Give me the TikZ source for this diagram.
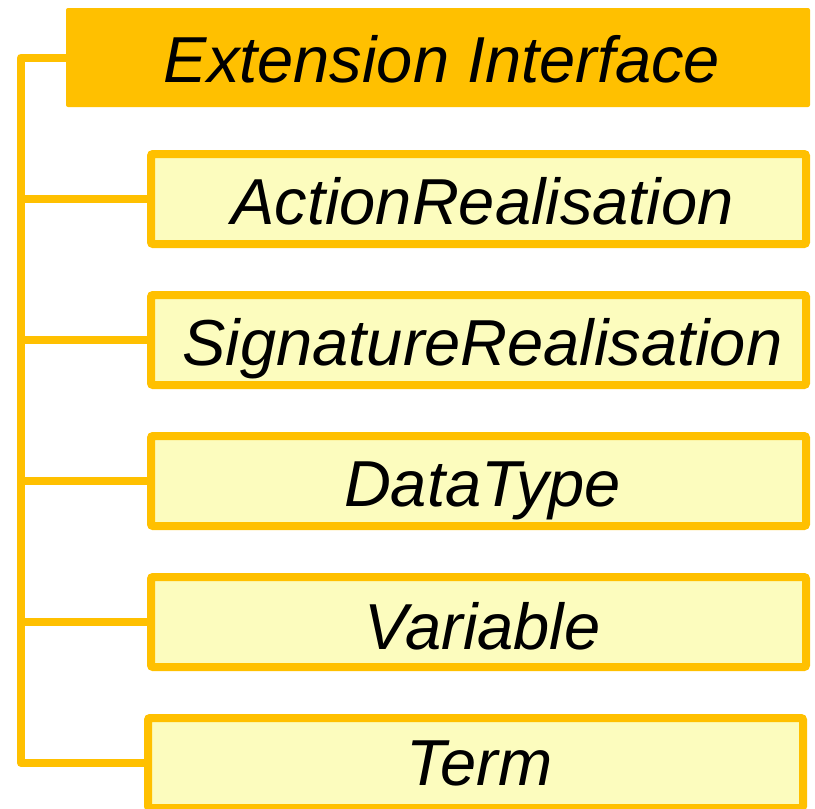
\documentclass[tikz,border=0pt]{standalone}
\usepackage{fontspec}
\setmainfont{Liberation Sans}
\definecolor{gold}{HTML}{FFC000}
\definecolor{paleyellow}{HTML}{FCFCBE}
\begin{document}
\begin{tikzpicture}[x=1pt,y=-1pt,
  boxtext/.style={inner sep=0pt,text height=50pt,text depth=0pt,
    font=\fontsize{65}{78}\selectfont\itshape,
    execute at begin node={\hspace*{8pt}}},
  headbox/.style={boxtext,fill=gold,draw=none,rounded corners=2pt,
    minimum width=744pt,minimum height=99pt},
  itembox/.style={boxtext,fill=paleyellow,draw=gold,line width=8pt,rounded corners=2pt,
    minimum width=655pt,minimum height=90pt},
  conn/.style={draw=gold,line width=8pt,line join=round}]
\useasboundingbox (0,0) rectangle (815,809);
\node[headbox] (head) at (438,57.5) {Extension Interface};
\node[itembox] (b1) at (478.5,199) {ActionRealisation};
\node[itembox] (b2) at (478.5,340) {SignatureRealisation};
\node[itembox] (b3) at (478.5,481) {DataType};
\node[itembox,text height=55pt] (b4) at (478.5,622) {Variable};
\node[itembox,text height=45pt] (b5) at (475.5,763) {Term};
\coordinate (spinetop) at (21,57.5);
\coordinate (spinebot) at (21,763);
\draw[conn] (head.west) -- (spinetop) -- (spinebot) -- (b5.west);
\foreach \b in {b1,b2,b3,b4}
  \draw[conn] (spinetop |- \b.west) -- (\b.west);
\end{tikzpicture}
\end{document}
